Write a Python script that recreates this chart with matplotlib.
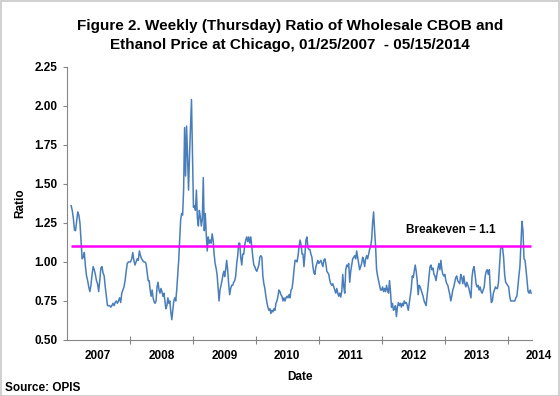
import pandas as pd
import matplotlib
matplotlib.use("Agg")
import matplotlib.pyplot as plt
import matplotlib.dates as mdates
from matplotlib.patches import Rectangle
from matplotlib.ticker import FixedLocator, FormatStrFormatter

plt.rcParams["font.family"] = ["Liberation Sans", "DejaVu Sans"]
plt.rcParams["font.weight"] = "bold"

# weekly ratio readings, 01/25/2007 - 05/15/2014, in stretches
ratio_a = [1.36, 1.33, 1.28, 1.205, 1.20, 1.26, 1.32, 1.30, 1.25, 1.14, 1.02, 1.03,
           1.06, 0.97, 0.91, 0.88, 0.84, 0.81, 0.85, 0.92, 0.97, 0.95, 0.92, 0.88,
           0.86, 0.81, 0.88, 0.96, 0.97, 0.93, 0.91, 0.84, 0.78, 0.72, 0.72, 0.72,
           0.71, 0.72, 0.735, 0.72, 0.74, 0.75, 0.735, 0.75, 0.77, 0.74, 0.80, 0.82,
           0.84, 0.88, 0.94, 0.99, 1.00, 1.00, 1.00, 1.02, 1.06, 1.01, 0.98, 1.00,
           1.02, 1.01, 1.07, 1.04, 1.02, 1.01, 1.00, 1.00, 0.99]
ratio_b = [0.93, 0.88, 0.88, 0.82, 0.78, 0.82, 0.77, 0.745, 0.735, 0.75, 0.84, 0.87,
           0.82, 0.80, 0.83, 0.81, 0.78, 0.80, 0.75, 0.70, 0.72, 0.77, 0.735, 0.75,
           0.68, 0.63, 0.69, 0.75, 0.77, 0.75, 0.82, 0.91, 1.01, 1.14, 1.27, 1.31,
           1.30, 1.46, 1.86, 1.55, 1.87, 1.68, 1.46, 1.68, 1.87, 2.04, 1.68, 1.35,
           1.36, 1.33, 1.46, 1.28, 1.23, 1.33, 1.29, 1.23, 1.27, 1.54, 1.20, 1.31,
           1.18, 1.07, 1.16, 1.12, 1.14, 1.12, 1.18, 1.14, 1.05, 0.99, 0.96, 0.92,
           0.84, 0.75, 0.82, 0.85, 0.88, 0.92, 0.94]
ratio_c = [0.906, 0.95, 1.01, 0.95, 0.86, 0.79, 0.83, 0.85, 0.85, 0.87, 0.88, 0.91,
           0.99, 1.04, 1.12, 1.12, 1.03, 0.98, 1.05, 1.05, 1.11, 1.14, 1.16, 1.13,
           1.16, 1.12, 1.16, 1.10, 1.03, 0.98, 0.97, 0.95, 0.94, 0.96, 0.98, 1.03,
           1.04, 1.03, 0.91, 0.86, 0.83, 0.78, 0.74, 0.71, 0.69, 0.70, 0.67, 0.69,
           0.68, 0.70, 0.69, 0.735, 0.75, 0.78, 0.82, 0.81, 0.79, 0.78, 0.75, 0.77,
           0.75, 0.77, 0.78, 0.77, 0.79, 0.77, 0.82, 0.83, 0.88, 0.95, 1.01, 1.01,
           1.00, 1.04, 1.10, 1.14, 1.11, 1.05]
ratio_d = [1.05, 0.97, 1.05, 1.14, 1.16, 1.09, 1.08, 1.08, 1.05, 1.03, 0.97,
           0.93, 0.92, 0.97, 0.99, 1.01, 0.99, 1.00, 1.01, 0.99, 0.97, 1.01, 1.02,
           0.99, 0.94, 0.93, 0.92, 0.88, 0.86, 0.85, 0.86, 0.84, 0.82, 0.80, 0.83,
           0.80, 0.78, 0.80, 0.775, 0.81, 0.92, 0.84, 0.80, 0.95, 0.98, 0.97, 0.99,
           0.87, 0.94, 0.98, 1.02, 1.03, 1.04, 1.02, 1.07, 1.03, 0.99, 0.95, 0.97,
           0.99, 1.03, 1.01, 0.97, 1.02, 1.04, 1.02, 1.05, 1.08, 1.10, 1.14, 1.25,
           1.32, 1.20, 1.10, 0.95, 0.91, 0.88, 0.85, 0.82]
ratio_e = [0.82, 0.84, 0.81, 0.83, 0.81, 0.85, 0.82, 0.80, 0.88, 0.81, 0.71, 0.735,
           0.69, 0.70, 0.72, 0.65, 0.71, 0.74, 0.72, 0.735, 0.71, 0.735, 0.72, 0.75,
           0.735, 0.74, 0.72, 0.69, 0.735, 0.78, 0.83, 0.91, 0.90, 0.94, 0.98, 0.94,
           0.88, 0.79, 0.85, 0.84, 0.82, 0.80, 0.78, 0.75, 0.735, 0.72, 0.78, 0.84,
           0.91, 0.97, 0.98, 0.95, 0.96, 0.92, 0.91, 0.88, 0.92, 0.96, 0.99, 0.95,
           1.01, 0.95, 0.92, 0.91, 0.92, 0.88, 0.86, 0.85, 0.82, 0.79, 0.75, 0.78,
           0.82, 0.84, 0.87, 0.90, 0.91, 0.88, 0.87]
ratio_f = [0.86, 0.92, 0.90, 0.86, 0.91, 0.86, 0.84, 0.87, 0.85, 0.83, 0.80, 0.77,
           0.90, 0.95, 0.97, 0.92, 0.86, 0.84, 0.85, 0.82, 0.84, 0.81, 0.80, 0.82,
           0.84, 0.91, 0.94, 0.95, 0.92, 0.95, 0.82, 0.74, 0.75, 0.80, 0.82, 0.84,
           0.83, 0.83, 0.87, 0.97, 1.08, 1.10, 1.09, 1.03, 0.92, 0.87, 0.86, 0.85,
           0.84, 0.78, 0.75, 0.75, 0.75, 0.75, 0.75, 0.77, 0.78, 0.84, 0.91, 0.97,
           1.12, 1.26, 1.20, 1.02, 1.01, 0.95, 0.88, 0.81, 0.80, 0.82, 0.80]

# first and last date of each stretch
stretch_start = ["2007-01-25", "2008-04-10", "2009-07-03", "2010-09-30", "2011-12-30", "2013-03-27"]
stretch_end = ["2008-04-03", "2009-06-29", "2010-09-25", "2011-12-24", "2013-03-21", "2014-05-15"]
stretches = [ratio_a, ratio_b, ratio_c, ratio_d, ratio_e, ratio_f]

breakeven = 1.1
years = list(range(2007, 2015))
y_ticks = [0.50, 0.75, 1.00, 1.25, 1.50, 1.75, 2.00, 2.25]

dates = []
ratio = []
for s, e, vals in zip(stretch_start, stretch_end, stretches):
    dates.extend(pd.date_range(s, e, periods=len(vals)))
    ratio.extend(vals)

fig = plt.figure(figsize=(5.6, 3.96), dpi=100)
ax = fig.add_axes([67 / 560, 1 - 340 / 396, 465 / 560, (340 - 66.7) / 396])

ax.plot(dates, ratio, color="#4a7ebb", linewidth=1.1)
ax.hlines(breakeven, dates[0], dates[-1], color="#ff00ff", linewidth=1.8)
ax.text(pd.Timestamp("2012-05-17"), 1.205, "Breakeven = 1.1", fontsize=8.5,
        fontweight="bold", va="center", ha="left")

ax.set_xlim(pd.Timestamp("2007-01-01"), pd.Timestamp("2014-05-20"))
ax.set_ylim(0.5, 2.25)
ax.yaxis.set_major_locator(FixedLocator(y_ticks))
ax.yaxis.set_major_formatter(FormatStrFormatter("%.2f"))

year_starts = [mdates.date2num(pd.Timestamp(f"{y + 1}-01-01")) for y in years[:-1]]
ax.xaxis.set_major_locator(FixedLocator(year_starts))
ax.xaxis.set_major_formatter(plt.NullFormatter())
xform = ax.get_xaxis_transform()
for y in years:
    ax.text(pd.Timestamp(f"{y}-07-01"), -0.06, str(y), transform=xform, ha="center",
            va="center", fontsize=8.5, fontweight="bold", clip_on=False)

for s in ["top", "right"]:
    ax.spines[s].set_visible(False)
for s in ["left", "bottom"]:
    ax.spines[s].set_color("#868686")
ax.tick_params(axis="x", which="major", direction="inout", length=6, color="#868686")
ax.tick_params(axis="y", direction="out", length=3, color="#868686", labelsize=8.5, pad=4)

ax.set_xlabel("Date", fontsize=8.5, fontweight="bold", labelpad=16)
ax.set_ylabel("Ratio", fontsize=8.5, fontweight="bold", labelpad=6)

fig.text(0.518, 1 - 26 / 396, "Figure 2. Weekly (Thursday) Ratio of Wholesale CBOB and",
         ha="center", va="center", fontsize=11, fontweight="bold")
fig.text(0.518, 1 - 45 / 396, "Ethanol Price at Chicago, 01/25/2007  - 05/15/2014",
         ha="center", va="center", fontsize=11, fontweight="bold")
fig.text(5 / 560, 1 - 388 / 396, "Source: OPIS", ha="left", va="center",
         fontsize=8.5, fontweight="bold")

fig.patches.append(Rectangle((0.001, 0.001), 0.997, 0.997, transform=fig.transFigure,
                             fill=False, edgecolor="#c8c8c8", linewidth=1.2))

fig.savefig("out.png", dpi=100)
plt.close(fig)
